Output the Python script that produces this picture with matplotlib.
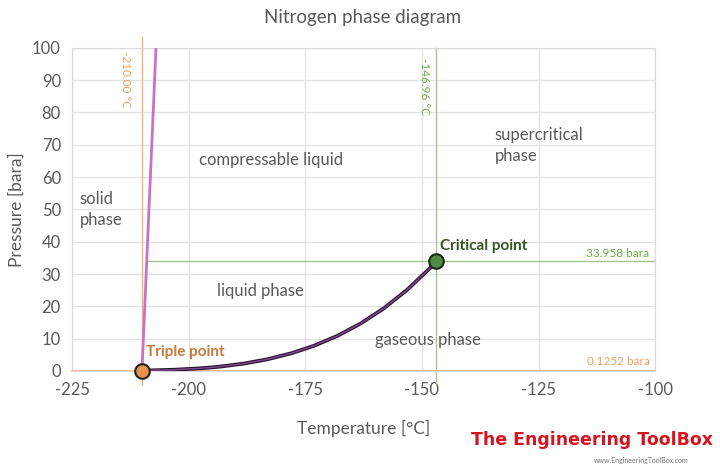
import numpy as np
import matplotlib
matplotlib.use("Agg")
import matplotlib.pyplot as plt

plt.rcParams['font.family'] = ['Lato', 'DejaVu Sans']
plt.rcParams['axes.unicode_minus'] = False

# -----------------------------
# Data
# -----------------------------
triple_T, triple_P = -210.0, 0.1252
crit_T, crit_P = -146.96, 33.958

# melting curve (solid / liquid)
melt_T = [-210.0, -207.0]
melt_P = [0.1252, 100.0]

# vaporization curve (liquid / gas)
vap_T = [-210.0, -208.15, -203.15, -198.15, -195.8, -193.15, -188.15, -183.15,
         -178.15, -173.15, -168.15, -163.15, -158.15, -153.15, -148.15, -146.96]
vap_P = [0.1252, 0.174, 0.386, 0.761, 1.013, 1.37, 2.29, 3.61,
         5.41, 7.78, 10.84, 14.67, 19.40, 25.13, 32.0, 33.958]

x_ticks = [-225, -200, -175, -150, -125, -100]
y_ticks = [0, 10, 20, 30, 40, 50, 60, 70, 80, 90, 100]

gray = '#595959'
orange_light = '#f4b183'
green_light = '#a9c48f'

# -----------------------------
# Plot
# -----------------------------
fig = plt.figure(figsize=(7.2, 4.69), dpi=100)
ax = fig.add_axes([0.1, 0.209, 0.81, 0.689])
ax.set_xlim(-225, -100)
ax.set_ylim(0, 100)
ax.set_xticks(x_ticks)
ax.set_yticks(y_ticks)
ax.grid(True, color='#e3e3e3', linewidth=1.0)
ax.set_axisbelow(True)
ax.tick_params(length=0, labelsize=12, labelcolor=gray, pad=8)
for s in ax.spines.values():
    s.set_color('#d9d9d9')

# reference lines
ax.plot([triple_T, triple_T], [-4.3, 103.4], color=orange_light, lw=1.0, clip_on=False, zorder=2)
ax.plot([crit_T, crit_T], [-4.3, 100], color=green_light, lw=1.0, clip_on=False, zorder=2)
ax.plot([-225, -100], [triple_P, triple_P], color=orange_light, lw=1.2, clip_on=False, zorder=2)
ax.plot([-209.0, -100], [crit_P, crit_P], color=green_light, lw=1.0, clip_on=False, zorder=2)

# phase boundaries
ax.plot(melt_T, melt_P, color='#c972c4', lw=2.0, zorder=3)
ax.plot(vap_T, vap_P, color='#2a1030', lw=2.7, zorder=3,
        solid_capstyle='round', solid_joinstyle='round')
ax.plot(vap_T, vap_P, color='#7a4a8a', lw=1.1, zorder=3,
        solid_capstyle='round', solid_joinstyle='round')

ax.scatter([triple_T], [triple_P], s=110, color='#e8924f', edgecolor='#222222', linewidth=1.5, zorder=5, clip_on=False)
ax.scatter([crit_T], [crit_P], s=110, color='#4f8a42', edgecolor='#1a2a15', linewidth=1.5, zorder=5, clip_on=False)

# labels
ax.text(-223.3, 50, 'solid\nphase', fontsize=12, color=gray, va='center', ha='left', linespacing=1.4)
ax.text(-182.3, 65.3, 'compressable liquid', fontsize=12, color=gray, va='center', ha='center')
ax.text(-134.4, 69.7, 'supercritical\nphase', fontsize=12, color=gray, va='center', ha='left', linespacing=1.4)
ax.text(-184.7, 24.8, 'liquid phase', fontsize=12, color=gray, va='center', ha='center')
ax.text(-148.8, 9.6, 'gaseous phase', fontsize=12, color=gray, va='center', ha='center')
ax.text(-209.2, 5.9, 'Triple point', fontsize=11, color='#c47a3c', fontweight='bold', va='center', ha='left')
ax.text(-146.2, 38.7, 'Critical point', fontsize=11, color='#375623', fontweight='bold', va='center', ha='left')
ax.text(-101.2, 36.3, '33.958 bara', fontsize=8.5, color='#70ad47', va='center', ha='right')
ax.text(-101.2, 2.8, '0.1252 bara', fontsize=8.5, color='#f0a060', va='center', ha='right')
ax.text(-213.6, 99, '-210.00 °C', fontsize=8.5, color='#f0a060', rotation=-90, va='top', ha='center')
ax.text(-149.4, 97, '-146.96 °C', fontsize=8.5, color='#70ad47', rotation=-90, va='top', ha='center')

ax.set_xlabel('Temperature [°C]', fontsize=12.5, color=gray, labelpad=16)
ax.set_ylabel('Pressure [bara]', fontsize=12.5, color=gray, labelpad=5)
fig.text(0.504, 0.963, 'Nitrogen phase diagram', fontsize=13.5, color=gray, ha='center', va='center')

# watermark
fig.text(0.822, 0.062, 'The Engineering ToolBox', fontsize=12.5, color='#d7141e',
         fontweight='bold', family=['DejaVu Sans'], ha='center', va='center')
fig.text(0.89, 0.018, 'www.EngineeringToolBox.com', fontsize=5, color='#777777', ha='center', va='center')

fig.savefig('out.png', dpi=100)
